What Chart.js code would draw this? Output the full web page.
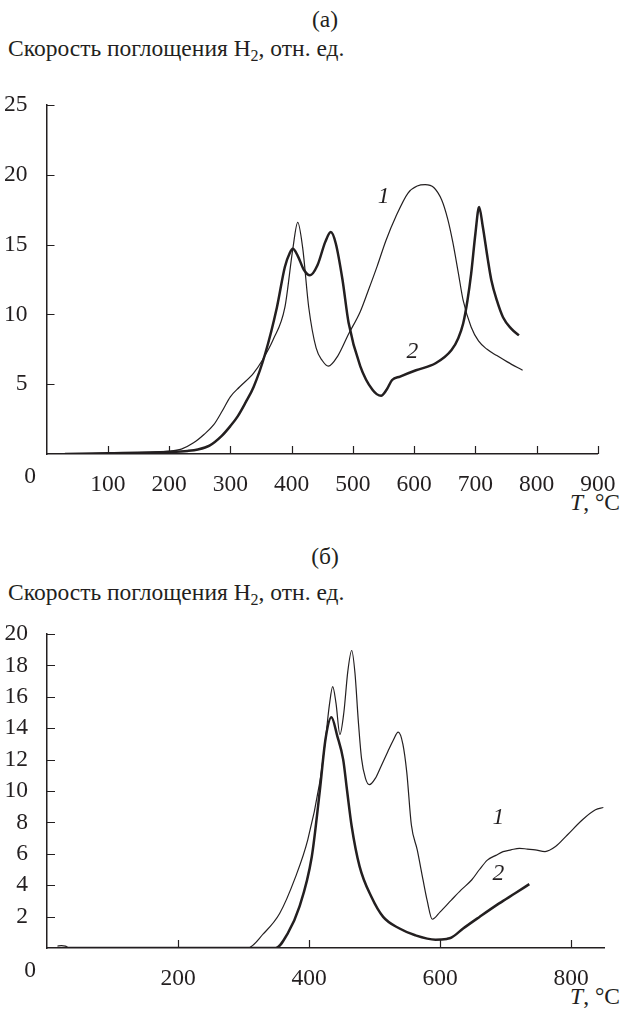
<!DOCTYPE html>
<html><head><meta charset="utf-8">
<script src="https://cdn.jsdelivr.net/npm/chart.js@4.4.0/dist/chart.umd.min.js"></script>
<style>
html,body{margin:0;padding:0;background:#fff;}
body{width:624px;height:1014px;position:relative;overflow:hidden;font-family:"Liberation Serif","Times New Roman","DejaVu Serif",serif;color:#231f20;}
.t{position:absolute;font-size:23.5px;line-height:23.5px;white-space:nowrap;}
.c{transform:translateX(-50%);}
sub{font-size:16px;vertical-align:-5px;line-height:0;}
canvas{position:absolute;left:0;}
</style></head><body>
<div class="t c" style="left:325px;top:8px">(а)</div>
<div class="t" style="left:8px;top:37px">Скорость поглощения H<sub>2</sub>, отн. ед.</div>
<div class="t" style="right:4px;top:491px"><i>T</i>, °C</div>
<div class="t c" style="left:325px;top:545px">(б)</div>
<div class="t" style="left:8px;top:581px">Скорость поглощения H<sub>2</sub>, отн. ед.</div>
<div class="t" style="right:4px;top:985px"><i>T</i>, °C</div>
<canvas id="ca" width="624" height="430" style="top:80px"></canvas>
<canvas id="cb" width="624" height="414" style="top:600px"></canvas>
<script>
// ---- Panel (а) data ----
const A_X_TICKS = [0,100,200,300,400,500,600,700,800,900];
const A_Y_TICKS = [0,5,10,15,20,25];
const A1_T = [20,100,200,220,240,257,273,287,300,315,338,352,370,389,402,410,418,428,440,450,460,475,493,512,525,540,554,570,590,605,618,632,645,655,663,672,680,693,705,719,735,752,777];
const A1_V = [0,0.05,0.2,0.35,0.8,1.4,2.1,3.1,4.1,4.8,5.8,6.7,8.2,10.5,14.7,16.6,14.8,10.5,7.6,6.7,6.3,7.0,8.6,10.2,11.7,13.5,15.3,17.0,18.7,19.2,19.3,19.1,18.2,16.8,15.2,13.0,11.0,9.1,8.1,7.5,7.05,6.6,6.0];
const A2_T = [30,100,200,230,247,266,286,300,312,325,338,357,376,389,397,402,410,420,430,442,455,464,472,483,493,512,532,546,555,564,577,603,635,661,672,680,687,693,700,706,712,720,726,735,745,758,771];
const A2_V = [0,0.05,0.15,0.22,0.32,0.6,1.3,2.0,2.7,3.7,4.8,7.2,10.5,13.4,14.4,14.7,14.2,13.2,12.8,13.5,15.2,15.9,15.1,12.5,9.4,6.3,4.6,4.17,4.6,5.3,5.55,6.0,6.5,7.45,8.3,9.35,11.0,12.9,15.8,17.7,16.3,14.0,12.45,11.0,9.8,9.0,8.5];
const A_LABELS = [{text:'1', x:550, y:18.4},{text:'2', x:597, y:7.3}];

// ---- Panel (б) data ----
const B_X_TICKS = [0,200,400,600,800];
const B_Y_TICKS = [0,2,4,6,8,10,12,14,16,18,20];
const B1_T = [16,22,28,34,306,330,355,379,398,416,425,431,436,441,447,453,459,465,470,475,480,486,492,501,510,520,528,536,543,549,556,565,574,580,588,600,617,632,648,660,672,685,696,708,721,733,745,760,776,794,818,837,849];
const B1_V = [0.12,0.15,0.12,0,0,0.9,2.2,4.5,6.9,10.5,13.3,15.5,16.65,15.6,13.6,15.0,17.6,18.95,17.5,14.5,12.06,10.8,10.4,10.8,11.6,12.5,13.2,13.75,13.0,11.2,7.85,6.25,4.3,3.05,1.83,2.3,3.05,3.7,4.33,5.0,5.6,5.9,6.14,6.25,6.35,6.3,6.25,6.14,6.46,7.2,8.2,8.8,8.95];
const B2_T = [30,349,367,385,404,416,425,434,443,452,458,465,477,495,513,538,562,593,610,617,635,660,690,715,736];
const B2_V = [0,0,0.9,2.6,5.8,9.9,13.3,14.7,13.5,12.0,10.0,7.74,5.2,3.26,1.98,1.24,0.81,0.53,0.58,0.66,1.24,1.98,2.84,3.5,4.07];
const B_LABELS = [{text:'1', x:689, y:8.3},{text:'2', x:689, y:4.7}];

const INK = '#231f20';
const FAMILY = '"Liberation Serif","Times New Roman","DejaVu Serif",serif';
const FONT = {family:FAMILY, size:23.5};

const pts = (T,V) => T.map((t,i)=>({x:t, y:V[i]}));

const decor = {
  id:'decor',
  afterDraw(chart, args, opts){
    const {ctx, scales:{x,y}, chartArea:a} = chart;
    ctx.save();
    ctx.strokeStyle = INK; ctx.lineWidth = 1.2;
    ctx.beginPath();
    x.ticks.forEach(t=>{ if(t.value===0) return; const px=Math.round(x.getPixelForValue(t.value))+0.5; ctx.moveTo(px,a.bottom); ctx.lineTo(px,a.bottom-8);});
    y.ticks.forEach(t=>{ if(t.value===0) return; const py=Math.round(y.getPixelForValue(t.value))+0.5; ctx.moveTo(a.left,py); ctx.lineTo(a.left+8,py);});
    ctx.stroke();
    ctx.fillStyle = INK; ctx.textAlign='center'; ctx.textBaseline='middle';
    ctx.font = '23.5px ' + FAMILY;
    ctx.fillText('0', 30, x.top + 8.4 + 14.1);
    ctx.font = 'italic 23.5px ' + FAMILY;
    opts.labels.forEach(l=> ctx.fillText(l.text, x.getPixelForValue(l.x), y.getPixelForValue(l.y)));
    ctx.restore();
  }
};

function makeChart(id, cfg){
  return new Chart(document.getElementById(id), {
    type:'line',
    data:{datasets: cfg.series.map(s=>({
      data: pts(s.T, s.V), borderColor: INK, borderWidth: s.w,
      pointRadius:0, fill:false, cubicInterpolationMode:'monotone', tension:0.4
    }))},
    options:{
      responsive:false, animation:false, devicePixelRatio:1,
      layout:{padding:cfg.pad},
      plugins:{legend:{display:false}, tooltip:{enabled:false}, decor:{labels:cfg.labels}},
      scales:{
        x:{type:'linear', min:cfg.xmin, max:cfg.xmax,
           afterBuildTicks:s=>{ s.ticks = cfg.xt.map(v=>({value:v})); },
           afterFit:s=>{ s.height = 40; },
           grid:{display:false}, border:{display:true, color:INK, width:1.5},
           ticks:{color:INK, font:FONT, padding:8.4, maxRotation:0, autoSkip:false, callback:v=> v===0?'':String(v)}},
        y:{type:'linear', min:0, max:cfg.ymax,
           afterBuildTicks:s=>{ s.ticks = cfg.yt.map(v=>({value:v})); },
           afterFit:s=>{ s.width = cfg.yw; },
           grid:{display:false}, border:{display:true, color:INK, width:1.5},
           ticks:{color:INK, font:FONT, padding:11, autoSkip:false, callback:v=> v===0?'':String(v)}}
      }
    },
    plugins:[decor]
  });
}

makeChart('ca', {
  series:[{T:A1_T,V:A1_V,w:1.2},{T:A2_T,V:A2_V,w:2.5}],
  labels:A_LABELS, xmin:0, xmax:900, ymax:25, xt:A_X_TICKS, yt:A_Y_TICKS, yw:46.5,
  pad:{left:0, right:22.3, top:21, bottom:16}
});
makeChart('cb', {
  series:[{T:B1_T,V:B1_V,w:1.2},{T:B2_T,V:B2_V,w:2.5}],
  labels:B_LABELS, xmin:0, xmax:850, ymax:20, xt:B_X_TICKS, yt:B_Y_TICKS, yw:47,
  pad:{left:0, right:20, top:34, bottom:26}
});
</script>
</body></html>
